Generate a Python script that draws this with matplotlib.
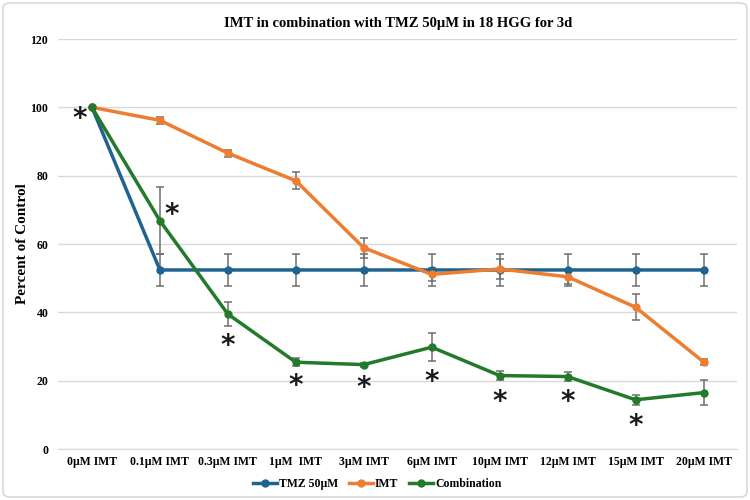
import matplotlib
matplotlib.use("Agg")
import matplotlib.pyplot as plt
from matplotlib.patches import FancyBboxPatch
from matplotlib.lines import Line2D

categories = ["0µM IMT", "0.1µM IMT", "0.3µM IMT", "1µM  IMT", "3µM IMT",
              "6µM IMT", "10µM IMT", "12µM IMT", "15µM IMT", "20µM IMT"]
tmz = [100, 52.4, 52.4, 52.4, 52.4, 52.4, 52.4, 52.4, 52.4, 52.4]
tmz_err = [0, 4.8, 4.8, 4.8, 4.8, 4.8, 4.8, 4.8, 4.8, 4.8]
imt = [100, 96.2, 86.6, 78.5, 58.9, 51.1, 52.7, 50.4, 41.5, 25.5]
imt_err = [0, 1.0, 1.0, 2.5, 3.0, 1.8, 3.0, 2.0, 3.8, 0.8]
combo = [100, 66.8, 39.5, 25.4, 24.7, 29.8, 21.5, 21.2, 14.4, 16.5]
combo_err = [0, 9.8, 3.4, 1.2, 0.6, 4.1, 1.2, 1.2, 1.5, 3.7]
star_x = [-0.18, 1.18, 2, 3, 4, 5, 6, 7, 8]
star_y = [96.5, 68.5, 30.0, 18.3, 17.8, 19.6, 13.7, 13.7, 6.7]

plt.rcParams['font.family'] = ['Liberation Serif', 'DejaVu Serif']
plt.rcParams['font.weight'] = 'bold'

fig = plt.figure(figsize=(7.5, 5), dpi=100)
fig.patch.set_facecolor('white')
border = FancyBboxPatch((0.004, 0.006), 0.992, 0.988, boxstyle="round,pad=0,rounding_size=0.01",
                        transform=fig.transFigure, facecolor='none', edgecolor='#d9d9d9', lw=1.2)
fig.patches.append(border)

ax = fig.add_axes([0.0773, 0.102, 0.906, 0.82])
x = list(range(len(categories)))

series = [("TMZ 50µM", tmz, tmz_err, '#21638f'),
          ("IMT", imt, imt_err, '#ed7d31'),
          ("Combination", combo, combo_err, '#237a2a')]
handles = []
for name, vals, errs, col in series:
    ax.errorbar(x, vals, yerr=errs, color=col, lw=2.5, marker='o', ms=5,
                ecolor='#6f6f6f', elinewidth=1.1, capsize=3, capthick=1.1, zorder=3)
    handles.append(Line2D([], [], color=col, lw=2.5, marker='o', ms=5, label=name))

for sx, sy in zip(star_x, star_y):
    ax.text(sx, sy, "*", ha='center', va='center', fontsize=20, fontweight='bold',
            color='#1a1a1a', family='DejaVu Sans', zorder=4)

ax.set_xlim(-0.5, len(categories) - 0.5)
ax.set_ylim(0, 120)
ax.set_yticks(range(0, 121, 20))
ax.set_xticks(x)
ax.set_xticklabels(categories, fontsize=8.5, fontweight='bold')
for lab in ax.get_yticklabels():
    lab.set_fontsize(8.5)
    lab.set_fontweight('bold')
ax.yaxis.grid(True, color='#d9d9d9', lw=1)
ax.set_axisbelow(True)
for s in ['top', 'right', 'left']:
    ax.spines[s].set_visible(False)
ax.spines['bottom'].set_color('#d9d9d9')
ax.tick_params(length=0)
ax.tick_params(axis='x', pad=5)
ax.tick_params(axis='y', pad=7)
ax.set_ylabel("Percent of Control", fontsize=11, fontweight='bold')
ax.yaxis.set_label_coords(-0.043, 0.5)
ax.set_title("IMT in combination with TMZ 50µM in 18 HGG for 3d", fontsize=10.5,
             fontweight='bold', pad=9)
ax.legend(handles=handles, loc='center', bbox_to_anchor=(0.47, -0.085), ncol=3, frameon=False,
          handlelength=2.0, columnspacing=0.9, handletextpad=0.2,
          prop={'weight': 'bold', 'size': 8.5})

fig.savefig("out.png", dpi=100)
